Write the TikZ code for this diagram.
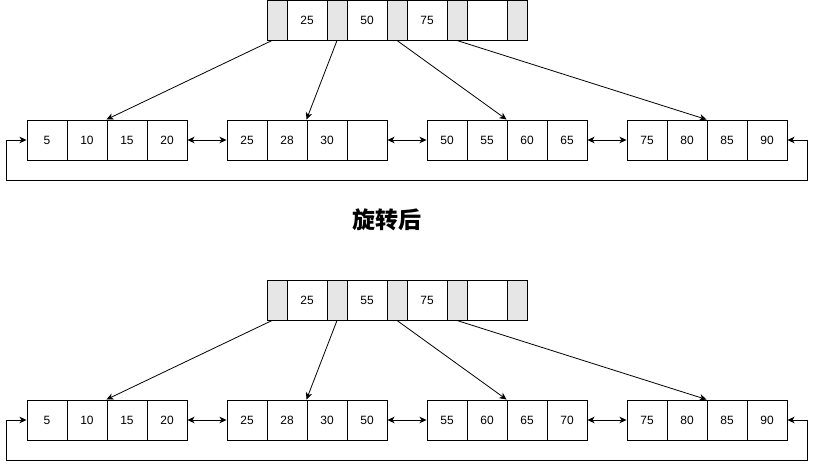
\documentclass[tikz,border=0pt]{standalone}
\usepackage{fontspec}
\setmainfont{Liberation Sans}
\newfontfamily\cjk{Noto Sans CJK SC}
\usetikzlibrary{arrows.meta}
\definecolor{cellgray}{RGB}{230,230,230}
\tikzset{
  cell/.style={draw, line width=1pt, minimum width=40pt, minimum height=40pt, inner sep=0pt, font=\fontsize{12}{14}\selectfont},
  gcell/.style={cell, fill=cellgray, minimum width=20pt},
  link/.style={line width=0.8pt, -{Stealth[length=7pt,width=6.5pt,inset=2pt]}},
  dlink/.style={line width=0.8pt, {Stealth[length=7pt,width=6.5pt,inset=2pt]}-{Stealth[length=7pt,width=6.5pt,inset=2pt]}},
  title/.style={font=\cjk\bfseries\fontsize{23}{26}\selectfont}
}
\begin{document}
\begin{tikzpicture}[x=1pt,y=-1pt]
\useasboundingbox (0,0) rectangle (816,469);
% ---------- upper diagram ----------
\foreach \i in {1,...,5} \node[gcell] (ag\i) at ({277+60*(\i-1)},20) {};
\node[cell] (at1) at (307,20) {25};
\node[cell] (at2) at (367,20) {50};
\node[cell] (at3) at (427,20) {75};
\node[cell] (at4) at (487,20) {};
\foreach \v [count=\i from 0] in {5,10,15,20,25,28,30,{},50,55,60,65,75,80,85,90} {
  \pgfmathtruncatemacro\L{\i/4}
  \pgfmathtruncatemacro\C{\i-4*\L}
  \node[cell] (a\i) at ({47+200*\L+40*\C},140) {\v};
}
\draw[link] ([xshift=-5pt]ag1.south) -- (a2.north west);
\draw[link] (ag2.south) -- (a6.north west);
\draw[link] (ag3.south) -- (a10.north west);
\draw[link] (ag4.south) -- (a14.north west);
\draw[dlink] (a3.east) -- (a4.west);
\draw[dlink] (a7.east) -- (a8.west);
\draw[dlink] (a11.east) -- (a12.west);
\draw[dlink] (a0.west) -- ++(-20,0) -- ++(0,40) -| ([xshift=20pt]a15.east) -- (a15.east);
% ---------- title ----------
\node[title] (ttl) at (387,220) {旋转后};
% ---------- lower diagram ----------
\foreach \i in {1,...,5} \node[gcell] (bg\i) at ({277+60*(\i-1)},300) {};
\node[cell] (bt1) at (307,300) {25};
\node[cell] (bt2) at (367,300) {55};
\node[cell] (bt3) at (427,300) {75};
\node[cell] (bt4) at (487,300) {};
\foreach \v [count=\i from 0] in {5,10,15,20,25,28,30,50,55,60,65,70,75,80,85,90} {
  \pgfmathtruncatemacro\L{\i/4}
  \pgfmathtruncatemacro\C{\i-4*\L}
  \node[cell] (b\i) at ({47+200*\L+40*\C},420) {\v};
}
\draw[link] ([xshift=-5pt]bg1.south) -- (b2.north west);
\draw[link] (bg2.south) -- (b6.north west);
\draw[link] (bg3.south) -- (b10.north west);
\draw[link] (bg4.south) -- (b14.north west);
\draw[dlink] (b3.east) -- (b4.west);
\draw[dlink] (b7.east) -- (b8.west);
\draw[dlink] (b11.east) -- (b12.west);
\draw[dlink] (b0.west) -- ++(-20,0) -- ++(0,40) -| ([xshift=20pt]b15.east) -- (b15.east);
\end{tikzpicture}
\end{document}
